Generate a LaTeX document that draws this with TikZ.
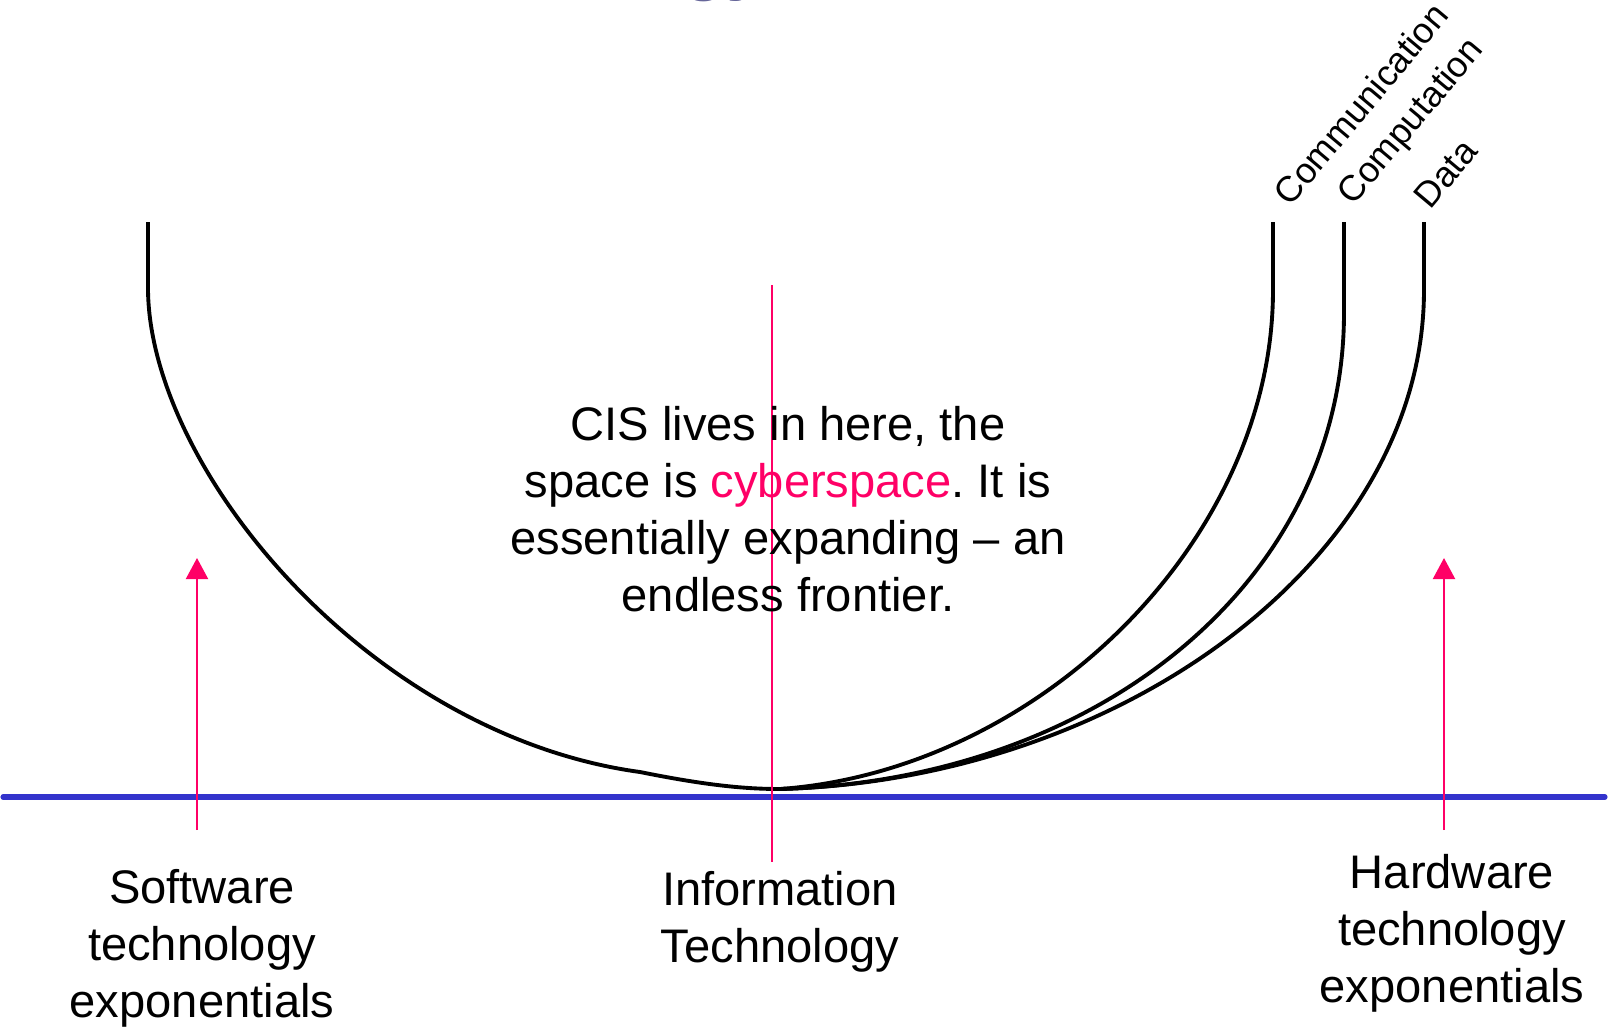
\documentclass[tikz,border=0pt]{standalone}
\usepackage{fontspec}
\setmainfont{Liberation Sans}
\usetikzlibrary{arrows.meta}
\definecolor{cyberpink}{HTML}{FF0066}
\definecolor{axisblue}{HTML}{3333CC}
\definecolor{titlegrey}{HTML}{666699}
\frenchspacing

\begin{document}
\begin{tikzpicture}[x=0.01cm,y=-0.01cm,
    every node/.style={inner sep=0pt},
    label text/.style={align=center,anchor=north,font=\fontsize{13.4pt}{16.2pt}\selectfont},
    stream label/.style={rotate=50,anchor=base west,font=\fontsize{10.2pt}{12pt}\selectfont},
    space curve/.style={black,line width=1.1pt},
    growth arrow/.style={cyberpink,line width=0.6pt,-{Triangle[width=0.22cm,length=0.21cm]}}]
    \useasboundingbox (0,0) rectangle (1608,1029);
    %%%%% TITLE (cut off at the top)
    \node[anchor=base,text=titlegrey,font=\fontsize{20.6pt}{24pt}\selectfont\bfseries] (TITLE) at (725,-14) {gy};
    %%%%% THE AXIS
    \coordinate (AXISW) at (3,797);
    \coordinate (AXISE) at (1605,797);
    \draw[axisblue,line width=1.45pt,line cap=round] (AXISW) -- (AXISE);
    %%%%% THE CURVES
    \coordinate (BOTTOM) at (780,789);
    \coordinate (SWTOP) at (148,222);
    \coordinate (COMMTOP) at (1273,222);
    \coordinate (COMPTOP) at (1344,222);
    \coordinate (DATATOP) at (1424,222);
    \draw[space curve] (SWTOP) -- (148,290)
        .. controls (150,470) and (370,735) .. (640,772)
        .. controls (700,784) and (740,789) .. (BOTTOM)
        .. controls (1040,770) and (1273,540) .. (1273,290) -- (COMMTOP);
    \draw[space curve] (BOTTOM)
        .. controls (1100,780) and (1344,580) .. (1344,313) -- (COMPTOP);
    \draw[space curve] (BOTTOM)
        .. controls (1120,780) and (1424,560) .. (1424,290) -- (DATATOP);
    % Labels of the three curves
    \node[stream label] (COMM) at (1290,208) {Communication};
    \node[stream label] (COMP) at (1353,207) {Computation};
    \node[stream label] (DATA) at (1430,211) {Data};
    %%%%% THE CENTRE LINE AND THE ARROWS
    \coordinate (ITTOP) at (772,285);
    \coordinate (ITBOT) at (772,862);
    \draw[cyberpink,line width=0.6pt] (ITTOP) -- (ITBOT);
    \coordinate (SWBOT) at (197,830);
    \coordinate (SWTIP) at (197,558);
    \coordinate (HWBOT) at (1444,830);
    \coordinate (HWTIP) at (1444,558);
    \draw[growth arrow] (SWBOT) -- (SWTIP);
    \draw[growth arrow] (HWBOT) -- (HWTIP);
    %%%%% THE TEXTS
    \node[label text] (CIS) at (788,406) {CIS lives in here, the\\
        space is {\color{cyberpink}cyberspace}. It is\\
        essentially expanding – an\\
        endless frontier.};
    \node[label text] (SW) at (202,869) {Software\\technology\\exponentials};
    \node[label text] (IT) at (780,871) {Information\\Technology};
    \node[label text] (HW) at (1452,854) {Hardware\\technology\\exponentials};
\end{tikzpicture}
\end{document}
